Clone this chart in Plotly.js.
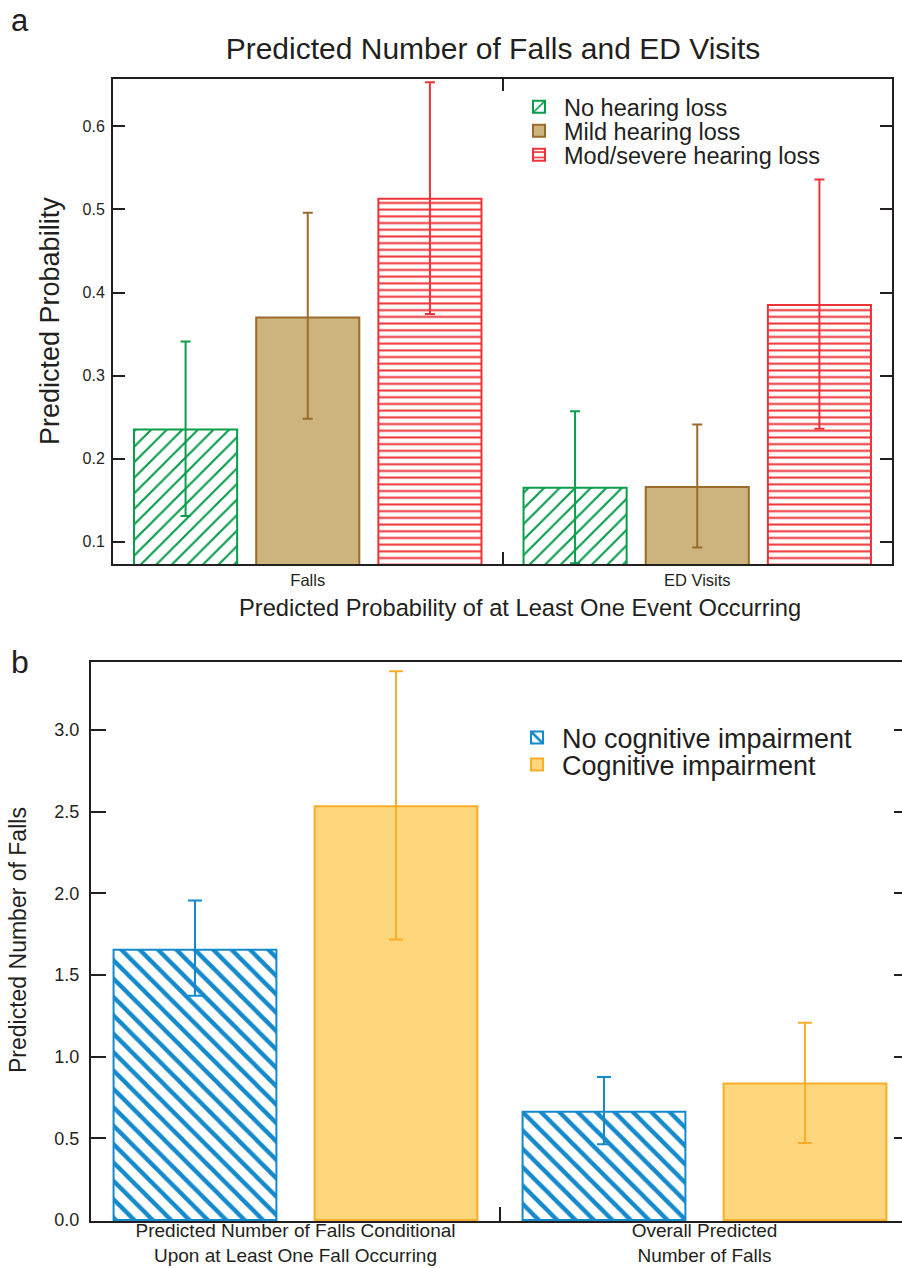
<!DOCTYPE html>
<html>
<head>
<meta charset="utf-8">
<script src="https://cdn.plot.ly/plotly-3.0.1.min.js"></script>
<style>
  html, body { margin: 0; padding: 0; overflow: hidden; background: #fff; width: 902px; height: 1268px; }
  #top { position: absolute; left: 0; top: 0; width: 902px; height: 630px; }
  #bottom { position: absolute; left: 0; top: 630px; width: 912px; height: 638px; }
</style>
</head>
<body>
<div id="top"></div>
<div id="bottom"></div>
<script>
// ---------------- DATA ----------------
// Panel a
var hearingCategories = ['Falls', 'ED Visits'];
var noHearingLoss      = [0.235, 0.165];
var noHearingLossHigh  = [0.341, 0.257];
var noHearingLossLow   = [0.131, 0.074];
var mildHearingLoss     = [0.370, 0.166];
var mildHearingLossHigh = [0.496, 0.241];
var mildHearingLossLow  = [0.248, 0.093];
var modSevereHearingLoss     = [0.513, 0.385];
var modSevereHearingLossHigh = [0.653, 0.536];
var modSevereHearingLossLow  = [0.374, 0.236];
var hearingYTicks = [0.1, 0.2, 0.3, 0.4, 0.5, 0.6];

// Panel b
var cognitiveCategories = [
  'Predicted Number of Falls Conditional<br>Upon at Least One Fall Occurring',
  'Overall Predicted<br>Number of Falls'
];
var noCognitive     = [1.654, 0.662];
var noCognitiveHigh = [1.955, 0.876];
var noCognitiveLow  = [1.372, 0.464];
var cognitive     = [2.532, 0.835];
var cognitiveHigh = [3.358, 1.207];
var cognitiveLow  = [1.716, 0.472];
var cognitiveYTicks = [0.0, 0.5, 1.0, 1.5, 2.0, 2.5, 3.0];

// ---------------- HELPERS ----------------
function diff(a, b) { return a.map(function (v, i) { return +(v - b[i]).toFixed(4); }); }
var FONT = 'Liberation Sans, Arial, Helvetica, sans-serif';
var INK = '#231f20';

function legendAt(x, y, size) {
  return { x: x, y: y, xanchor: 'left', yanchor: 'middle', bgcolor: 'rgba(0,0,0,0)',
    borderwidth: 0, font: { family: FONT, size: size, color: INK }, itemclick: false,
    itemdoubleclick: false, tracegroupgap: 0, itemwidth: 40 };
}

// ---------------- PANEL A ----------------
var W1 = 902, H1 = 630;
function ax(x) { return x / W1; }
function ay(y) { return 1 - y / H1; }

var GREEN = '#0a9d4b', BROWN = '#9b6b2b', TAN = '#cdb47f', RED = '#ee3338';

var topTraces = [
  {
    type: 'bar', name: 'No hearing loss', x: hearingCategories, y: noHearingLoss,
    legend: 'legend',
    marker: { color: '#ffffff', line: { color: GREEN, width: 2 },
      pattern: { shape: '/', fgcolor: GREEN, bgcolor: '#ffffff', size: 11, solidity: 0.2 } },
    error_y: { type: 'data', array: diff(noHearingLossHigh, noHearingLoss),
      arrayminus: diff(noHearingLoss, noHearingLossLow), color: GREEN, thickness: 2, width: 5 },
    hoverinfo: 'skip'
  },
  {
    type: 'bar', name: 'Mild hearing loss', x: hearingCategories, y: mildHearingLoss,
    legend: 'legend2',
    marker: { color: TAN, line: { color: BROWN, width: 2 } },
    error_y: { type: 'data', array: diff(mildHearingLossHigh, mildHearingLoss),
      arrayminus: diff(mildHearingLoss, mildHearingLossLow), color: BROWN, thickness: 2, width: 5 },
    hoverinfo: 'skip'
  },
  {
    type: 'bar', name: 'Mod/severe hearing loss', x: hearingCategories, y: modSevereHearingLoss,
    legend: 'legend3',
    marker: { color: '#ffffff', line: { color: RED, width: 2 },
      pattern: { shape: '-', fgcolor: RED, bgcolor: '#ffffff', size: 6.7, solidity: 0.3 } },
    error_y: { type: 'data', array: diff(modSevereHearingLossHigh, modSevereHearingLoss),
      arrayminus: diff(modSevereHearingLoss, modSevereHearingLossLow), color: RED, thickness: 2, width: 5 },
    hoverinfo: 'skip'
  }
];

var topLayout = {
  width: W1, height: H1,
  margin: { l: 0, r: 0, t: 0, b: 0, pad: 0 },
  paper_bgcolor: '#ffffff', plot_bgcolor: '#ffffff',
  font: { family: FONT, color: INK },
  showlegend: true,
  barmode: 'group', bargap: 0.059, bargroupgap: 0.156,
  title: { text: 'Predicted Number of Falls and ED Visits', font: { family: FONT, size: 30, color: INK },
    xref: 'paper', yref: 'paper', x: ax(493), xanchor: 'center', y: ay(48), yanchor: 'middle' },
  xaxis: {
    domain: [ax(113), ax(892)], type: 'category', automargin: false,
    showline: true, linecolor: INK, linewidth: 2, mirror: 'ticks',
    ticks: 'inside', tickson: 'boundaries', ticklen: 12, tickwidth: 2, tickcolor: INK,
    tickfont: { family: FONT, size: 16.5, color: INK }, showgrid: false, zeroline: false,
    fixedrange: true
  },
  yaxis: {
    domain: [ay(564), ay(79)], range: [0.0732, 0.657], automargin: false,
    showline: true, linecolor: INK, linewidth: 2, mirror: 'ticks',
    ticks: 'inside', ticklen: 12, tickwidth: 2, tickcolor: INK,
    tickvals: hearingYTicks, tickformat: '.1f', ticklabelstandoff: 3,
    tickfont: { family: FONT, size: 16, color: INK }, showgrid: false, zeroline: false,
    fixedrange: true
  },
  legend: legendAt(ax(514), ay(107), 23.5),
  legend2: legendAt(ax(514), ay(131), 23.5),
  legend3: legendAt(ax(514), ay(155), 23.5),
  annotations: [
    { text: 'a', xref: 'paper', yref: 'paper', x: ax(9), y: ay(20), xanchor: 'left', yanchor: 'middle',
      showarrow: false, font: { family: FONT, size: 31, color: INK } },
    { text: 'Predicted Probability', xref: 'paper', yref: 'paper', x: ax(50), y: ay(321),
      xanchor: 'center', yanchor: 'middle', textangle: -90, showarrow: false,
      font: { family: FONT, size: 27, color: INK } },
    { text: 'Predicted Probability of at Least One Event Occurring', xref: 'paper', yref: 'paper',
      x: ax(520), y: ay(608), xanchor: 'center', yanchor: 'middle', showarrow: false,
      font: { family: FONT, size: 23.7, color: INK } }
  ]
};

Plotly.newPlot('top', topTraces, topLayout, { displayModeBar: false, staticPlot: true });

// ---------------- PANEL B ----------------
var W2 = 912, H2 = 638, OFF = 630;
function bx(x) { return x / W2; }
function by(y) { return 1 - (y - OFF) / H2; }

var BLUE = '#1489cb', ORANGE = '#f9ad2a', ORANGE_FILL = '#fed67b';

var bottomTraces = [
  {
    type: 'bar', name: 'No cognitive impairment', x: cognitiveCategories, y: noCognitive,
    legend: 'legend',
    marker: { color: '#ffffff', line: { color: BLUE, width: 2 },
      pattern: { shape: '\\', fgcolor: BLUE, bgcolor: '#ffffff', size: 13, solidity: 0.33 } },
    error_y: { type: 'data', array: diff(noCognitiveHigh, noCognitive),
      arrayminus: diff(noCognitive, noCognitiveLow), color: BLUE, thickness: 2, width: 7 },
    hoverinfo: 'skip'
  },
  {
    type: 'bar', name: 'Cognitive impairment', x: cognitiveCategories, y: cognitive,
    legend: 'legend2',
    marker: { color: ORANGE_FILL, line: { color: ORANGE, width: 2 } },
    error_y: { type: 'data', array: diff(cognitiveHigh, cognitive),
      arrayminus: diff(cognitive, cognitiveLow), color: ORANGE, thickness: 2, width: 7 },
    hoverinfo: 'skip'
  }
];

var bottomLayout = {
  width: W2, height: H2,
  margin: { l: 0, r: 0, t: 0, b: 0, pad: 0 },
  paper_bgcolor: '#ffffff', plot_bgcolor: '#ffffff',
  font: { family: FONT, color: INK },
  showlegend: true,
  barmode: 'group', bargap: 0.017, bargroupgap: 0.19,
  xaxis: {
    domain: [bx(91), bx(909)], type: 'category', automargin: false,
    showline: true, linecolor: INK, linewidth: 2, mirror: true,
    ticks: 'inside', tickson: 'boundaries', ticklen: 14, tickwidth: 2, tickcolor: INK,
    ticklabelstandoff: -9,
    tickfont: { family: FONT, size: 19, color: INK }, showgrid: false, zeroline: false,
    fixedrange: true
  },
  yaxis: {
    domain: [by(1221), by(662)], range: [-0.006, 3.415], automargin: false,
    showline: true, linecolor: INK, linewidth: 2, mirror: 'ticks',
    ticks: 'inside', ticklen: 15, tickwidth: 2, tickcolor: INK,
    tickvals: cognitiveYTicks, tickformat: '.1f', ticklabelstandoff: 6,
    tickfont: { family: FONT, size: 18, color: INK }, showgrid: false, zeroline: false,
    fixedrange: true
  },
  legend: legendAt(bx(512), by(738), 27),
  legend2: legendAt(bx(512), by(765), 27),
  annotations: [
    { text: 'b', xref: 'paper', yref: 'paper', x: bx(9), y: by(662), xanchor: 'left', yanchor: 'middle',
      showarrow: false, font: { family: FONT, size: 32, color: INK } },
    { text: 'Predicted Number of Falls', xref: 'paper', yref: 'paper', x: bx(18), y: by(940),
      xanchor: 'center', yanchor: 'middle', textangle: -90, showarrow: false,
      font: { family: FONT, size: 23, color: INK } }
  ]
};

Plotly.newPlot('bottom', bottomTraces, bottomLayout, { displayModeBar: false, staticPlot: true });
</script>
</body>
</html>
